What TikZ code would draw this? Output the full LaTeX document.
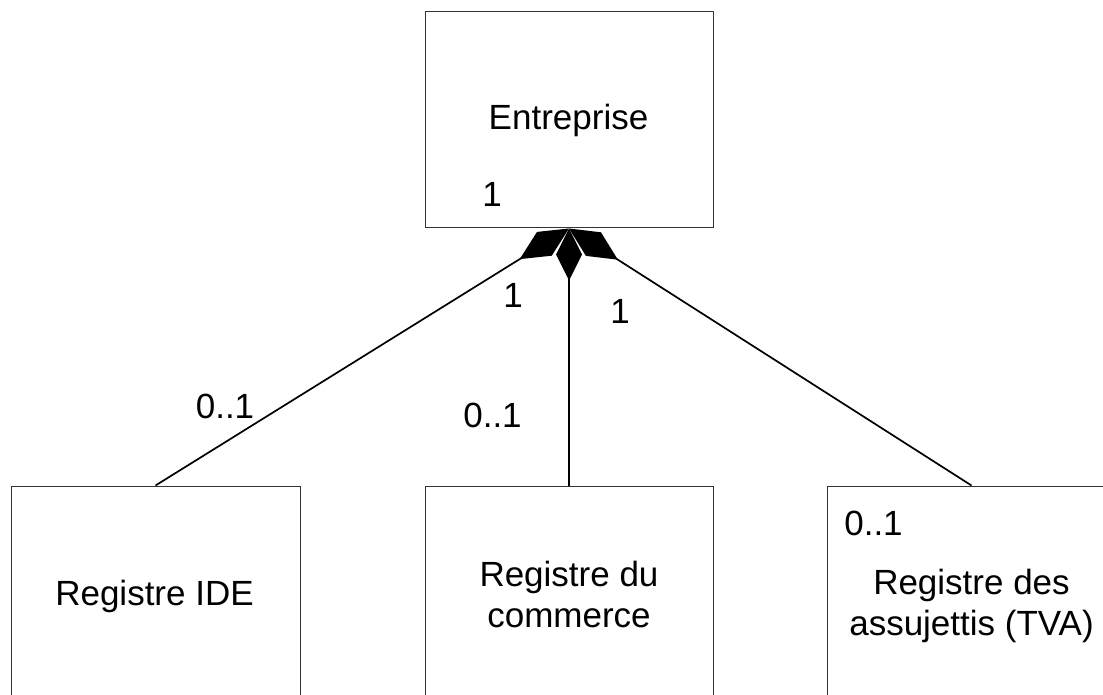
\documentclass[tikz,border=0pt]{standalone}
\usepackage{fontspec}
\setmainfont{Liberation Sans}
\usetikzlibrary{arrows.meta}
\begin{document}
\begin{tikzpicture}[x=1pt,y=-1pt,
  classbox/.style={draw=black!80,line width=1pt,fill=white,inner sep=0pt},
  lbl/.style={font=\fontsize{35}{41}\selectfont,inner sep=0pt,anchor=base},
  mline/.style={font=\fontsize{35}{41}\selectfont,inner sep=0pt,align=center},
  agg/.style={line width=1.7pt,{Diamond[length=52pt,width=26pt]}-},
  aggside/.style={line width=1.7pt,{Diamond[length=58pt,width=28pt]}-}
]
\useasboundingbox (0,0) rectangle (1103,695);
\begin{scope}
\clip (0,0) rectangle (1103,695);
\node[classbox,minimum width=288pt,minimum height=216pt] (ent) at (569,120) {};
\node[classbox,minimum width=289pt,minimum height=240pt] (ide) at (155.5,606) {};
\node[classbox,minimum width=288pt,minimum height=240pt] (rc) at (569,606) {};
\node[classbox,minimum width=289pt,minimum height=240pt] (tva) at (971.5,606) {};
\end{scope}
\node[lbl] (tent) at (568.5,130) {Entreprise};
\node[lbl] (tide) at (154.5,605) {Registre IDE};
\node[mline] (trc) at (569,594) {Registre du\\commerce};
\node[mline] (ttva) at (971.5,606) {Registre des\\assujettis (TVA)};
\draw[aggside] (ent.south) -- (ide.north);
\draw[agg] (ent.south) -- (rc.north);
\draw[aggside] (ent.south) -- (tva.north);
\node[lbl] (m1) at (492,207) {1};
\node[lbl] (m2) at (513,307) {1};
\node[lbl] (m3) at (620,323) {1};
\node[lbl] (m4) at (225,418) {0..1};
\node[lbl] (m5) at (492.5,427) {0..1};
\node[lbl] (m6) at (873.5,535) {0..1};
\end{tikzpicture}
\end{document}
